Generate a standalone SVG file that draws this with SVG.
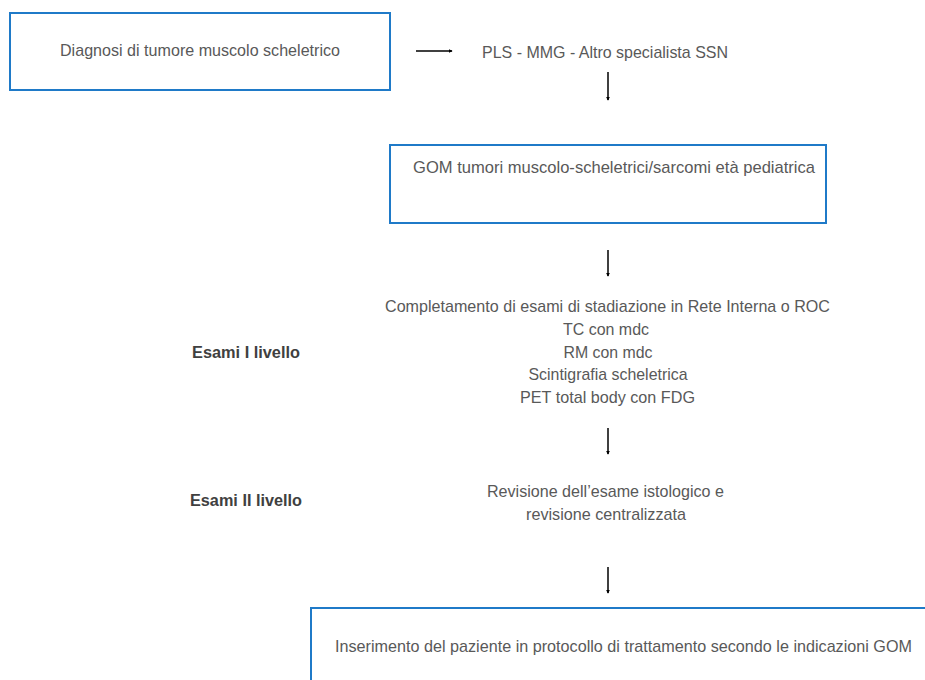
<svg xmlns="http://www.w3.org/2000/svg" width="925" height="680" viewBox="0 0 925 680">
<defs>
<marker id="ah" viewBox="0 0 6 6" refX="5" refY="3" markerWidth="4" markerHeight="4" orient="auto" markerUnits="userSpaceOnUse">
<path d="M0,0 L6,3 L0,6 z" fill="#000"/>
</marker>
<style>
.box{fill:#fff;stroke:#1f7ac8;stroke-width:2}
.t{font-family:"Liberation Sans",Arial,sans-serif;font-size:17px;fill:#595959;text-anchor:middle}
.b{font-family:"Liberation Sans",Arial,sans-serif;font-size:16.5px;font-weight:bold;fill:#404040;text-anchor:middle}
.c{stroke:#000;stroke-width:1.5;fill:none;marker-end:url(#ah)}
</style>
</defs>
<rect width="925" height="680" fill="#fff"/>
<g id="n1"><rect class="box" x="10" y="13" width="380" height="77"/><text class="t" x="200" y="56" textLength="280" lengthAdjust="spacingAndGlyphs">Diagnosi di tumore muscolo scheletrico</text></g>
<g id="n2"><text class="t" x="605" y="58" textLength="246" lengthAdjust="spacingAndGlyphs">PLS - MMG - Altro specialista SSN</text></g>
<g id="n3"><rect class="box" x="390" y="145" width="436" height="78"/><text class="t" x="614" y="173" textLength="402" lengthAdjust="spacingAndGlyphs">GOM tumori muscolo-scheletrici/sarcomi età pediatrica</text></g>
<g id="n4"><text class="t" x="607.5" y="312" textLength="445" lengthAdjust="spacingAndGlyphs">Completamento di esami di stadiazione in Rete Interna o ROC</text>
<text class="t" x="606" y="335" textLength="86" lengthAdjust="spacingAndGlyphs">TC con mdc</text>
<text class="t" x="608" y="358" textLength="89" lengthAdjust="spacingAndGlyphs">RM con mdc</text>
<text class="t" x="608" y="380" textLength="159" lengthAdjust="spacingAndGlyphs">Scintigrafia scheletrica</text>
<text class="t" x="607.5" y="403" textLength="175" lengthAdjust="spacingAndGlyphs">PET total body con FDG</text></g>
<g id="l1"><text class="b" x="246" y="358" textLength="108" lengthAdjust="spacingAndGlyphs">Esami I livello</text></g>
<g id="n5"><text class="t" x="605.5" y="497" textLength="237" lengthAdjust="spacingAndGlyphs">Revisione dell’esame istologico e</text>
<text class="t" x="606" y="520" textLength="160" lengthAdjust="spacingAndGlyphs">revisione centralizzata</text></g>
<g id="l2"><text class="b" x="246" y="506" textLength="112" lengthAdjust="spacingAndGlyphs">Esami II livello</text></g>
<g id="n6"><rect class="box" x="311" y="608" width="630" height="90"/><text class="t" x="623.5" y="652" textLength="577" lengthAdjust="spacingAndGlyphs">Inserimento del paziente in protocollo di trattamento secondo le indicazioni GOM</text></g>
<g id="connectors">
<path class="c" d="M416,51 H452"/>
<path class="c" d="M608,72 V100"/>
<path class="c" d="M608,250 V276"/>
<path class="c" d="M608,428 V454"/>
<path class="c" d="M608,567 V593"/>
</g>
</svg>
